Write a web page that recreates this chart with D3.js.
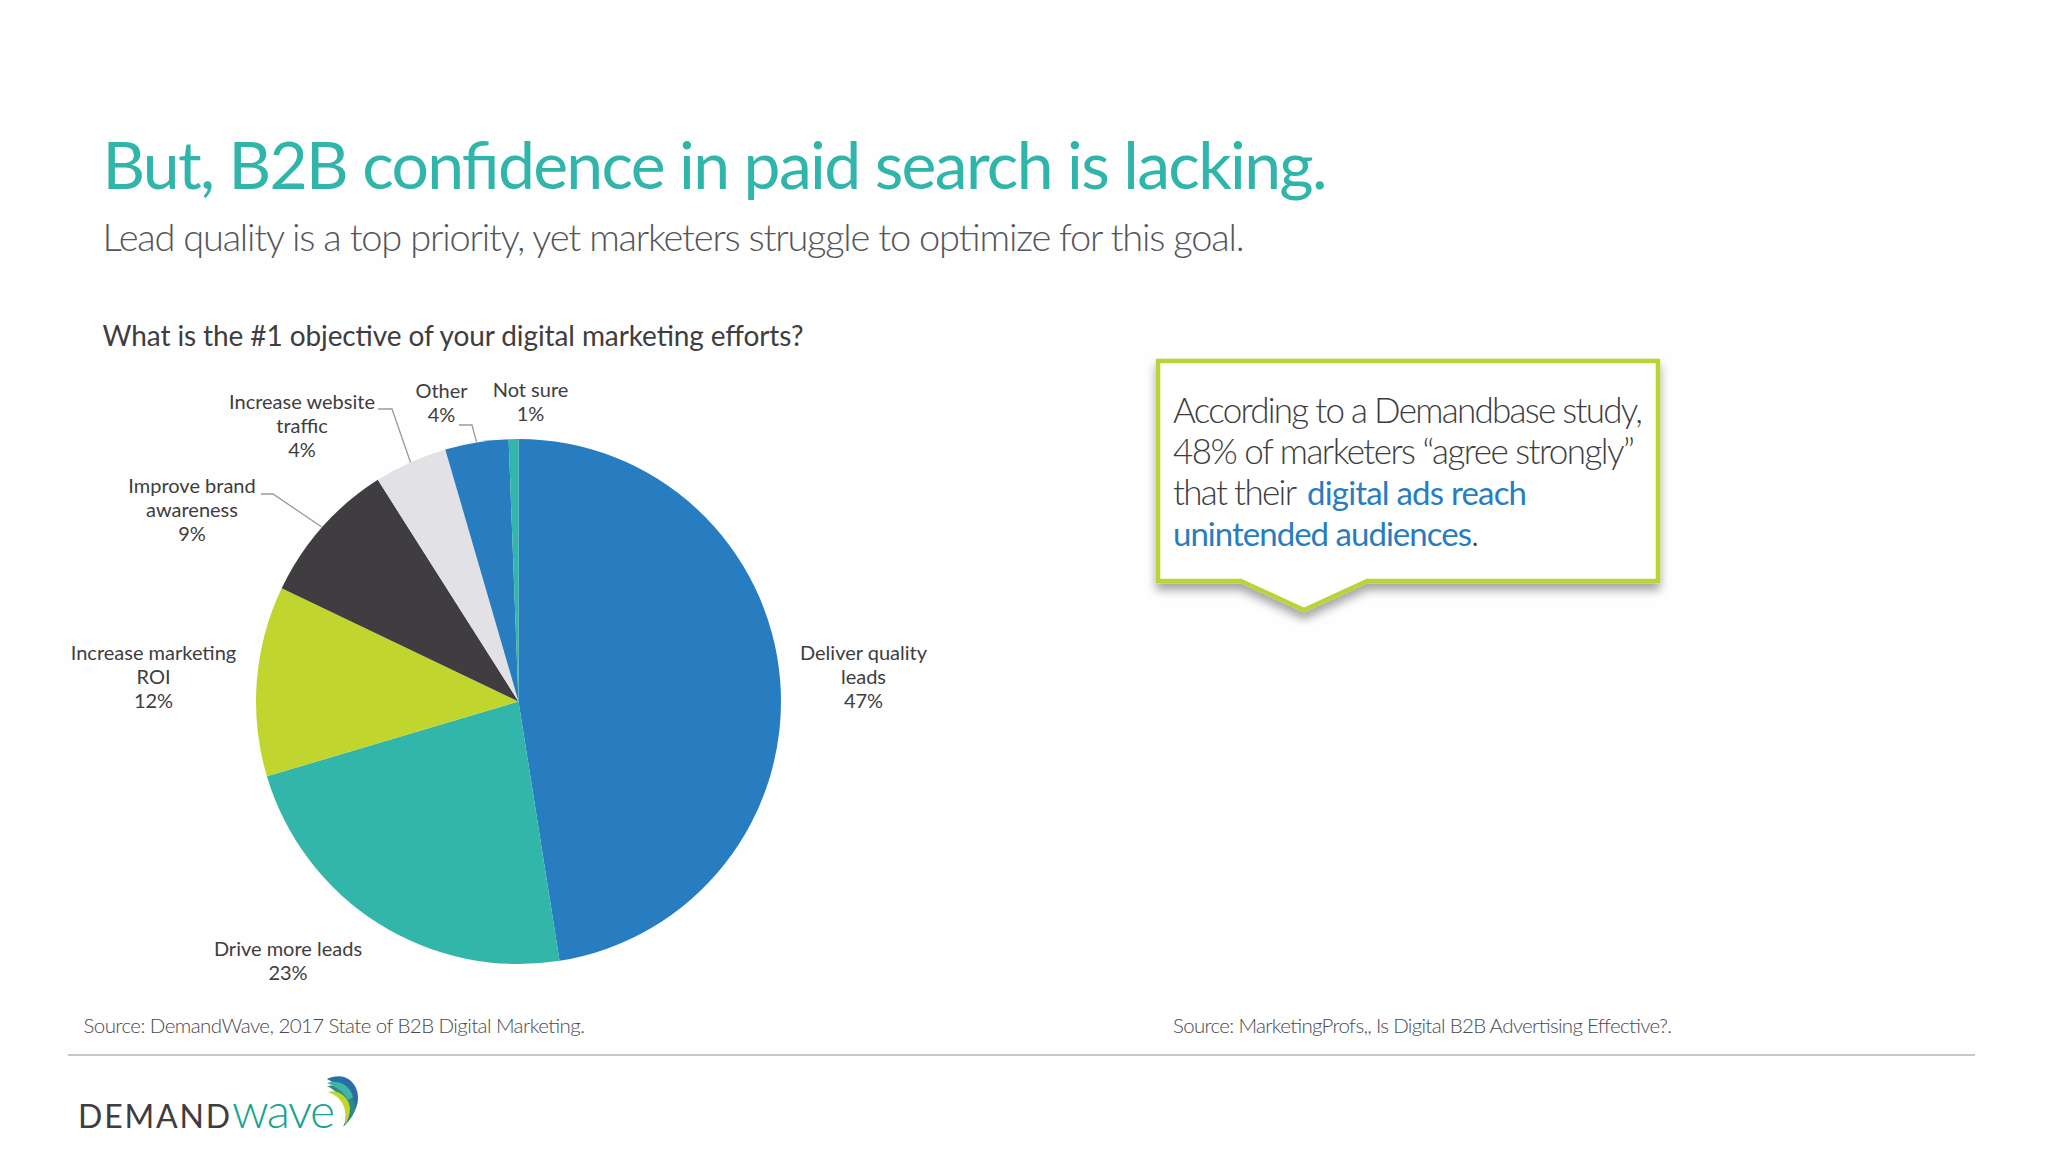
<!DOCTYPE html>
<html>
<head>
<meta charset="utf-8">
<script src="https://cdn.jsdelivr.net/npm/d3@7"></script>
<style>
  html, body { margin: 0; padding: 0; background: #fefefe; }
  svg { display: block; }
  text { font-family: Lato, "Open Sans", sans-serif; }
</style>
</head>
<body>
<div class="container"></div>
<script>
var categories = ["Deliver quality leads", "Drive more leads", "Increase marketing ROI", "Improve brand awareness", "Increase website traffic", "Other", "Not sure"];
var shares = [47.5, 22.9, 11.7, 8.9, 4.5, 3.9, 0.6];
var percentLabels = ["47%", "23%", "12%", "9%", "4%", "4%", "1%"];
var sliceColors = ["#277dbf", "#31b6a9", "#c1d52f", "#3f3d40", "#e2e1e6", "#277dbf", "#31b6a9"];

var width = 2048;
var height = 1152;
var dark = "#3f3d40";
var blue = "#277dbf";

var svg = d3.select(".container")
  .append("svg")
  .attr("width", width)
  .attr("height", height);

var defs = svg.append("defs");
defs.append("filter")
  .attr("id", "shadow")
  .attr("x", "-5%").attr("y", "-5%").attr("width", "110%").attr("height", "125%")
  .append("feDropShadow")
  .attr("dx", 0).attr("dy", 7).attr("stdDeviation", 5)
  .attr("flood-color", "#000").attr("flood-opacity", 0.35);

// small helper for plain text lines, len pins the width to the reference
function addText(str, x, y, size, color, weight, len) {
  var t = svg.append("text")
    .attr("x", x).attr("y", y)
    .attr("font-size", size)
    .attr("font-weight", weight || 400)
    .attr("fill", color)
    .text(str);
  if (len) t.attr("textLength", len).attr("lengthAdjust", "spacing");
  return t;
}

// headings
addText("But, B2B confidence in paid search is lacking.", 102.5, 189, 66, "#2fb5a9", 400, 1225);
addText("Lead quality is a top priority, yet marketers struggle to optimize for this goal.", 102.5, 251, 38, "#55555a", 300, 1142);
addText("What is the #1 objective of your digital marketing efforts?", 102.5, 346, 28, dark, 400, 701);

// pie
var cx = 518.5, cy = 701.5, radius = 262.5;
var pie = d3.pie().sort(null)(shares);
var arc = d3.arc().innerRadius(0).outerRadius(radius);

var chart = svg.append("g").attr("transform", "translate(" + cx + "," + cy + ")");
chart.selectAll("path")
  .data(pie)
  .enter().append("path")
  .attr("d", arc)
  .attr("fill", function (d, i) { return sliceColors[i]; });

// label placement, same order as categories
var labelLayout = [
  { x: 863.5, y: 660, lines: ["Deliver quality", "leads"] },
  { x: 288, y: 955.5, lines: ["Drive more leads"] },
  { x: 153.5, y: 660, lines: ["Increase marketing", "ROI"] },
  { x: 192, y: 493, lines: ["Improve brand", "awareness"], elbow: [261, 273, 494] },
  { x: 302, y: 409, lines: ["Increase website", "traffic"], elbow: [378, 392, 409] },
  { x: 441.5, y: 398, lines: ["Other"], elbow: [459, 472, 425] },
  { x: 530.5, y: 397, lines: ["Not sure"] }
];

labelLayout.forEach(function (l, i) {
  var t = svg.append("text")
    .attr("text-anchor", "middle")
    .attr("font-size", 20)
    .attr("fill", dark);
  l.lines.concat([percentLabels[i]]).forEach(function (s, k) {
    t.append("tspan").attr("x", l.x).attr("y", l.y + k * 24).text(s);
  });
  if (l.elbow) {
    // leader runs to the outer edge at the middle of the slice
    var mid = (pie[i].startAngle + pie[i].endAngle) / 2;
    var tx = cx + radius * Math.sin(mid);
    var ty = cy - radius * Math.cos(mid);
    svg.append("path")
      .attr("d", d3.line()([[l.elbow[0], l.elbow[2]], [l.elbow[1], l.elbow[2]], [tx, ty]]))
      .attr("fill", "none")
      .attr("stroke", "#9a9a9a")
      .attr("stroke-width", 1.3);
  }
});

// callout box
var box = d3.path();
box.moveTo(1158, 361);
box.lineTo(1658, 361);
box.lineTo(1658, 581);
box.lineTo(1367, 581);
box.lineTo(1304, 610);
box.lineTo(1241, 581);
box.lineTo(1158, 581);
box.closePath();
svg.append("path")
  .attr("d", box.toString())
  .attr("fill", "#fff")
  .attr("stroke", "#bcd235")
  .attr("stroke-width", 4.5)
  .attr("filter", "url(#shadow)");

addText("According to a Demandbase study,", 1173, 423, 35, dark, 300, 470);
addText("48% of marketers \u201Cagree strongly\u201D", 1173, 464, 35, dark, 300, 462);
addText("that their", 1173, 505, 35, dark, 300, 124);
addText("digital ads reach", 1307, 505, 33, blue, 400, 220);
addText("unintended audiences", 1173, 546, 33, blue, 400, 299);
addText(".", 1471, 546, 35, dark, 300);

// sources
addText("Source: DemandWave, 2017 State of B2B Digital Marketing.", 83.5, 1032.5, 20.5, "#4a4a4f", 300, 501.5);
addText("Source: MarketingProfs,, Is Digital B2B Advertising Effective?.", 1173, 1032.5, 20.5, "#4a4a4f", 300, 499);

// footer rule
svg.append("line")
  .attr("x1", 68).attr("x2", 1975)
  .attr("y1", 1055).attr("y2", 1055)
  .attr("stroke", "#b5b5b5")
  .attr("stroke-width", 1.5);

// logo
addText("DEMAND", 78, 1128, 32, dark, 400, 152);
addText("wave", 232, 1128, 48, "#17a58c", 300, 103);
var swooshes = [
  { fill: "#2a6ea6", d: "M327 1079 C335 1075 345 1075 351 1081 C361 1091 362 1108 343 1127 C352 1112 350 1090 327 1079Z" },
  { fill: "#2e8a7e", d: "M327 1086 C340 1083 354 1092 355 1106 C355 1114 350 1120 344 1126 C349 1110 345 1095 327 1086Z" },
  { fill: "#3fb5a5", d: "M327 1083 C338 1079 350 1085 353 1097 L348 1100 C344 1092 336 1087 327 1083Z" },
  { fill: "#c3d431", d: "M328 1092 C338 1089 349 1097 350 1108 C350 1114 348 1120 345 1125 C347 1112 345 1098 328 1092Z" }
];
svg.append("g").selectAll("path")
  .data(swooshes)
  .enter().append("path")
  .attr("d", function (d) { return d.d; })
  .attr("fill", function (d) { return d.fill; });
</script>
</body>
</html>
